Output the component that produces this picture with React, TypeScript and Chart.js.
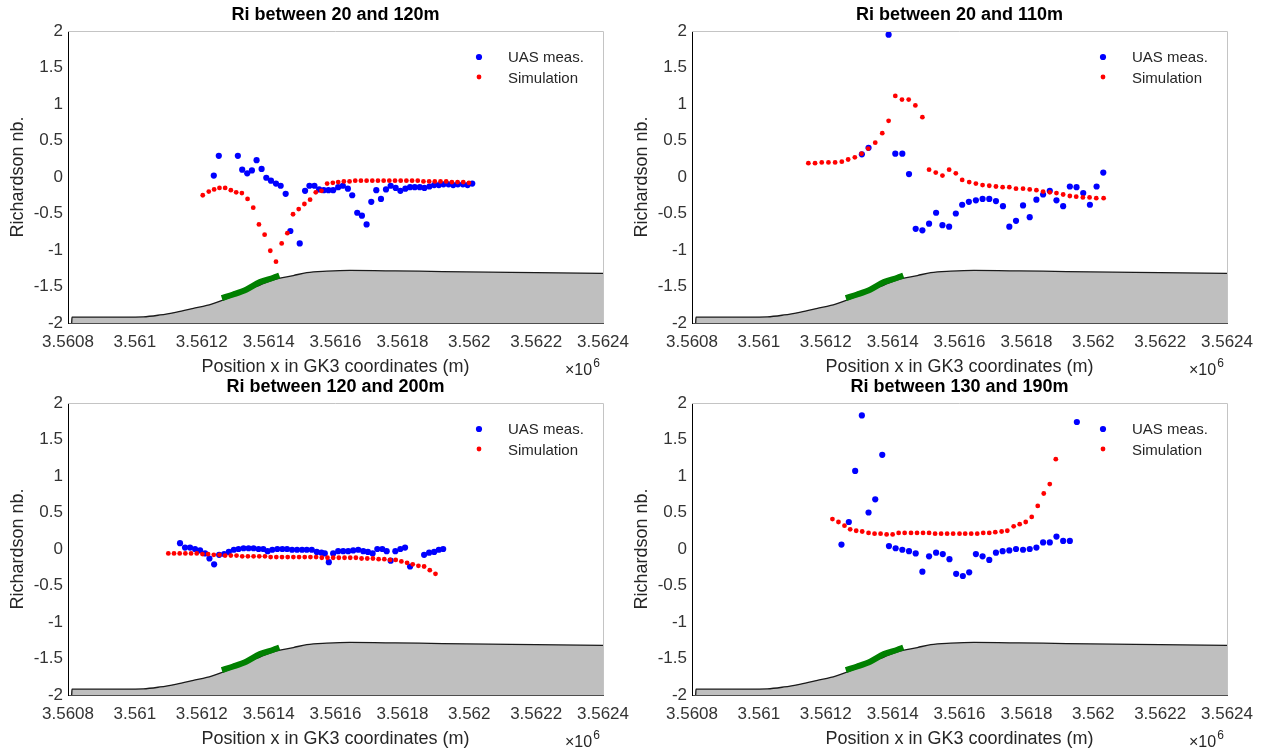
import React, { useEffect, useRef } from 'react';
import { Chart, registerables } from 'chart.js';

Chart.register(...registerables);

const FONT = '"Liberation Sans", Arial, Helvetica, sans-serif';

// ---------- axis ticks ----------
const xMin = 3560800;
const xMax = 3562400;
const xStep = 200;
const yMin = -2;
const yMax = 2;
const yStep = 0.5;
const xLabel = 'Position x in GK3 coordinates (m)';
const yLabel = 'Richardson nb.';
const legendLabels = ['UAS meas.', 'Simulation'];

// ---------- terrain (scaled profile) ----------
const terrainX = [3560811, 3560812, 3560900, 3561025, 3561075, 3561125, 3561175, 3561215, 3561255, 3561295, 3561334, 3561374, 3561414, 3561474, 3561514, 3561574, 3561643, 3561750, 3561850, 3561993, 3562200, 3562400];
const terrainY = [-2, -1.92, -1.92, -1.915, -1.89, -1.85, -1.8, -1.76, -1.7, -1.63, -1.55, -1.48, -1.41, -1.35, -1.31, -1.29, -1.28, -1.285, -1.29, -1.3, -1.31, -1.32];

// ---------- flight segment (green) ----------
const greenX = [3561260, 3561294, 3561334, 3561374, 3561414, 3561432];
const greenY = [-1.66, -1.61, -1.54, -1.44, -1.38, -1.35];

// ---------- panel 1: 20-120 m ----------
const p1Title = 'Ri between 20 and 120m';
const p1UasX = [3561236, 3561251, 3561308, 3561321, 3561336, 3561350, 3561364, 3561379, 3561393, 3561407, 3561422, 3561436, 3561451, 3561465, 3561493, 3561509, 3561522, 3561537, 3561551, 3561565, 3561579, 3561593, 3561608, 3561622, 3561637, 3561650, 3561665, 3561679, 3561693, 3561707, 3561722, 3561736, 3561751, 3561765, 3561780, 3561794, 3561809, 3561823, 3561837, 3561852, 3561866, 3561881, 3561895, 3561909, 3561923, 3561938, 3561952, 3561966, 3561981, 3561995, 3562009];
const p1UasY = [0.02, 0.29, 0.29, 0.10, 0.05, 0.09, 0.23, 0.11, -0.01, -0.05, -0.09, -0.12, -0.23, -0.74, -0.91, -0.19, -0.12, -0.12, -0.17, -0.18, -0.18, -0.18, -0.14, -0.12, -0.16, -0.25, -0.49, -0.53, -0.65, -0.34, -0.18, -0.30, -0.17, -0.12, -0.15, -0.19, -0.16, -0.14, -0.14, -0.14, -0.15, -0.13, -0.11, -0.11, -0.10, -0.10, -0.11, -0.10, -0.10, -0.11, -0.09];
const p1SimX = [3561203, 3561221, 3561237, 3561253, 3561270, 3561287, 3561303, 3561320, 3561337, 3561354, 3561371, 3561388, 3561405, 3561422, 3561439, 3561456, 3561473, 3561490, 3561507, 3561524, 3561541, 3561558, 3561575, 3561592, 3561608, 3561625, 3561642, 3561659, 3561676, 3561693, 3561710, 3561727, 3561744, 3561761, 3561778, 3561795, 3561812, 3561829, 3561846, 3561863, 3561880, 3561897, 3561914, 3561931, 3561948, 3561965, 3561982, 3561999];
const p1SimY = [-0.25, -0.20, -0.17, -0.15, -0.15, -0.18, -0.21, -0.22, -0.30, -0.42, -0.65, -0.79, -1.01, -1.16, -0.91, -0.77, -0.51, -0.44, -0.37, -0.31, -0.21, -0.19, -0.09, -0.08, -0.07, -0.06, -0.06, -0.05, -0.05, -0.05, -0.05, -0.05, -0.05, -0.05, -0.05, -0.05, -0.05, -0.05, -0.05, -0.06, -0.06, -0.06, -0.06, -0.06, -0.07, -0.07, -0.07, -0.08];

// ---------- panel 2: 20-110 m ----------
const p2Title = 'Ri between 20 and 110m';
const p2UasX = [3561308, 3561328, 3561388, 3561408, 3561429, 3561449, 3561469, 3561489, 3561509, 3561530, 3561549, 3561569, 3561589, 3561608, 3561628, 3561649, 3561669, 3561689, 3561709, 3561730, 3561749, 3561769, 3561790, 3561810, 3561830, 3561850, 3561870, 3561890, 3561910, 3561930, 3561950, 3561970, 3561990, 3562010, 3562030];
const p2UasY = [0.31, 0.40, 1.95, 0.32, 0.32, 0.04, -0.71, -0.73, -0.64, -0.49, -0.66, -0.68, -0.50, -0.38, -0.34, -0.32, -0.30, -0.30, -0.33, -0.40, -0.68, -0.60, -0.39, -0.55, -0.31, -0.24, -0.19, -0.32, -0.40, -0.13, -0.14, -0.22, -0.38, -0.13, 0.06];
const p2SimX = [3561148, 3561168, 3561188, 3561208, 3561228, 3561248, 3561267, 3561287, 3561307, 3561327, 3561348, 3561369, 3561388, 3561408, 3561428, 3561448, 3561468, 3561489, 3561509, 3561529, 3561549, 3561569, 3561589, 3561608, 3561629, 3561649, 3561669, 3561689, 3561709, 3561729, 3561749, 3561769, 3561790, 3561810, 3561830, 3561850, 3561870, 3561890, 3561910, 3561930, 3561949, 3561969, 3561989, 3562009, 3562031];
const p2SimY = [0.19, 0.19, 0.20, 0.20, 0.20, 0.21, 0.24, 0.27, 0.32, 0.39, 0.47, 0.60, 0.77, 1.11, 1.06, 1.06, 0.98, 0.82, 0.10, 0.06, 0.02, 0.10, 0.05, -0.04, -0.07, -0.09, -0.11, -0.12, -0.13, -0.14, -0.14, -0.16, -0.16, -0.17, -0.18, -0.20, -0.21, -0.22, -0.24, -0.26, -0.27, -0.28, -0.28, -0.29, -0.29];

// ---------- panel 3: 120-200 m ----------
const p3Title = 'Ri between 120 and 200m';
const p3UasX = [3561135, 3561150, 3561165, 3561180, 3561195, 3561210, 3561223, 3561237, 3561252, 3561267, 3561281, 3561296, 3561310, 3561325, 3561340, 3561355, 3561370, 3561384, 3561397, 3561411, 3561426, 3561441, 3561455, 3561470, 3561485, 3561500, 3561514, 3561529, 3561544, 3561558, 3561568, 3561580, 3561593, 3561608, 3561623, 3561638, 3561653, 3561668, 3561683, 3561697, 3561711, 3561725, 3561740, 3561753, 3561765, 3561779, 3561794, 3561808, 3561823, 3561865, 3561880, 3561895, 3561909, 3561922];
const p3UasY = [0.08, 0.02, 0.02, 0.00, -0.02, -0.06, -0.13, -0.21, -0.08, -0.07, -0.04, -0.01, 0.00, 0.01, 0.01, 0.01, 0.00, 0.00, -0.03, -0.01, 0.00, 0.00, 0.00, -0.01, -0.01, -0.01, -0.01, -0.01, -0.04, -0.05, -0.06, -0.18, -0.06, -0.03, -0.03, -0.03, -0.02, -0.01, -0.03, -0.04, -0.06, 0.00, 0.00, -0.03, -0.16, -0.03, 0.00, 0.02, -0.24, -0.08, -0.05, -0.04, -0.01, 0.00];
const p3SimX = [3561100, 3561117, 3561134, 3561151, 3561168, 3561185, 3561202, 3561219, 3561236, 3561253, 3561270, 3561287, 3561304, 3561321, 3561338, 3561355, 3561372, 3561389, 3561406, 3561423, 3561440, 3561457, 3561474, 3561491, 3561508, 3561525, 3561542, 3561559, 3561576, 3561593, 3561610, 3561627, 3561644, 3561661, 3561678, 3561695, 3561712, 3561729, 3561746, 3561763, 3561780, 3561797, 3561814, 3561831, 3561848, 3561865, 3561882, 3561899];
const p3SimY = [-0.06, -0.06, -0.06, -0.06, -0.06, -0.06, -0.07, -0.07, -0.08, -0.08, -0.09, -0.09, -0.09, -0.10, -0.10, -0.10, -0.10, -0.10, -0.11, -0.11, -0.11, -0.11, -0.11, -0.11, -0.11, -0.11, -0.11, -0.12, -0.12, -0.12, -0.12, -0.12, -0.12, -0.12, -0.13, -0.13, -0.13, -0.14, -0.14, -0.15, -0.15, -0.17, -0.19, -0.21, -0.23, -0.24, -0.29, -0.34];

// ---------- panel 4: 130-190 m ----------
const p4Title = 'Ri between 130 and 190m';
const p4UasX = [3561247, 3561269, 3561288, 3561308, 3561328, 3561348, 3561369, 3561389, 3561409, 3561429, 3561449, 3561469, 3561489, 3561509, 3561530, 3561550, 3561570, 3561590, 3561610, 3561629, 3561649, 3561669, 3561689, 3561709, 3561729, 3561749, 3561769, 3561790, 3561810, 3561830, 3561850, 3561870, 3561890, 3561910, 3561930, 3561951];
const p4UasY = [0.06, 0.37, 1.07, 1.83, 0.50, 0.68, 1.29, 0.04, 0.01, -0.01, -0.03, -0.06, -0.31, -0.10, -0.05, -0.07, -0.14, -0.34, -0.37, -0.32, -0.07, -0.10, -0.15, -0.05, -0.03, -0.02, 0.00, -0.01, 0.00, 0.02, 0.09, 0.09, 0.17, 0.11, 0.11, 1.74];
const p4SimX = [3561220, 3561238, 3561256, 3561273, 3561291, 3561309, 3561328, 3561346, 3561364, 3561382, 3561400, 3561418, 3561436, 3561455, 3561473, 3561491, 3561509, 3561527, 3561545, 3561563, 3561581, 3561600, 3561617, 3561635, 3561653, 3561671, 3561689, 3561707, 3561726, 3561743, 3561762, 3561780, 3561798, 3561816, 3561834, 3561852, 3561870, 3561888];
const p4SimY = [0.41, 0.37, 0.32, 0.27, 0.25, 0.24, 0.22, 0.21, 0.21, 0.20, 0.20, 0.22, 0.22, 0.22, 0.22, 0.22, 0.22, 0.21, 0.21, 0.21, 0.21, 0.21, 0.21, 0.21, 0.21, 0.22, 0.22, 0.23, 0.24, 0.25, 0.31, 0.34, 0.37, 0.44, 0.59, 0.76, 0.89, 1.23];

function zip(xs: number[], ys: number[]) {
  return xs.map((x, i) => ({ x, y: ys[i] }));
}

const CANVAS_W = 638;
const CANVAS_H = 379;

const decorPlugin = {
  id: 'matlabDecor',
  afterDraw(chart: any) {
    const ctx = chart.ctx;
    const { left, right, top, bottom } = chart.chartArea;
    ctx.save();
    // box top / right
    ctx.strokeStyle = '#c4c4c4';
    ctx.lineWidth = 1;
    ctx.beginPath();
    ctx.moveTo(left, top + 0.5);
    ctx.lineTo(right + 0.5, top + 0.5);
    ctx.lineTo(right + 0.5, bottom);
    ctx.stroke();
    // legend
    ctx.fillStyle = '#0000ff';
    ctx.beginPath();
    ctx.arc(right - 124, top + 26, 3.1, 0, Math.PI * 2);
    ctx.fill();
    ctx.fillStyle = '#ff0000';
    ctx.beginPath();
    ctx.arc(right - 124, top + 46, 2.4, 0, Math.PI * 2);
    ctx.fill();
    ctx.fillStyle = '#262626';
    ctx.font = `15px ${FONT}`;
    ctx.textAlign = 'left';
    ctx.textBaseline = 'middle';
    ctx.fillText(legendLabels[0], right - 95, top + 27);
    ctx.fillText(legendLabels[1], right - 95, top + 48);
    // exponent
    ctx.font = `16px ${FONT}`;
    const bx = right - 38;
    ctx.fillText('\u00d710', bx, chart.height - 8);
    const w = ctx.measureText('\u00d710').width;
    ctx.font = `12px ${FONT}`;
    ctx.fillText('6', bx + w + 1, chart.height - 15);
    ctx.restore();
  },
};

type PanelProps = {
  left: number;
  top: number;
  title: string;
  uasX: number[];
  uasY: number[];
  simX: number[];
  simY: number[];
};

function Panel({ left, top, title, uasX, uasY, simX, simY }: PanelProps) {
  const ref = useRef<HTMLCanvasElement | null>(null);
  useEffect(() => {
    if (!ref.current) return;
    const chart = new Chart(ref.current, {
      type: 'scatter',
      data: {
        datasets: [
          {
            label: legendLabels[1],
            data: zip(simX, simY),
            backgroundColor: '#ff0000',
            borderWidth: 0,
            pointRadius: 2.4,
            pointBorderWidth: 0,
          },
          {
            label: legendLabels[0],
            data: zip(uasX, uasY),
            backgroundColor: '#0000ff',
            borderWidth: 0,
            pointRadius: 3.1,
            pointBorderWidth: 0,
          },
          {
            type: 'line',
            label: 'segment',
            data: zip(greenX, greenY),
            borderColor: '#008000',
            borderWidth: 6,
            pointRadius: 0,
            cubicInterpolationMode: 'monotone',
            fill: false,
          } as any,
          {
            type: 'line',
            label: 'terrain',
            data: zip(terrainX, terrainY),
            borderColor: '#1a1a1a',
            borderWidth: 1.3,
            backgroundColor: '#bfbfbf',
            pointRadius: 0,
            cubicInterpolationMode: 'monotone',
            fill: { value: -2 },
          } as any,
        ],
      },
      options: {
        responsive: false,
        animation: false,
        events: [],
        layout: { padding: { left: 0, right: 35, top: 0, bottom: 0 } },
        plugins: {
          legend: { display: false },
          tooltip: { enabled: false },
          title: {
            display: true,
            text: title,
            fullSize: false,
            color: '#000',
            font: { family: FONT, size: 18, weight: 'bold' },
            padding: { top: 4.7, bottom: 4.7 },
          },
        },
        scales: {
          x: {
            type: 'linear',
            min: xMin,
            max: xMax,
            z: 1,
            grid: { display: false, drawTicks: false },
            border: { display: true, color: '#4d4d4d', width: 1 },
            ticks: {
              stepSize: xStep,
              autoSkip: false,
              maxRotation: 0,
              padding: 9,
              color: '#333333',
              font: { family: FONT, size: 17 },
              callback: (v: any) => String(Number((Number(v) / 1e6).toFixed(4))),
            },
            title: {
              display: true,
              text: xLabel,
              color: '#262626',
              font: { family: FONT, size: 18 },
              padding: { top: 0, bottom: 0.7 },
            },
            afterFit: (s: any) => {
              s.height = 56;
            },
          },
          y: {
            type: 'linear',
            min: yMin,
            max: yMax,
            z: 1,
            grid: { display: false, drawTicks: false },
            border: { display: true, color: '#000', width: 1 },
            ticks: {
              stepSize: yStep,
              padding: 5,
              color: '#333333',
              font: { family: FONT, size: 17 },
              callback: (v: any) => String(v),
            },
            title: {
              display: true,
              text: yLabel,
              color: '#262626',
              font: { family: FONT, size: 18 },
              padding: { top: 7.2, bottom: 0 },
            },
            afterFit: (s: any) => {
              s.width = 68;
            },
          },
        },
      } as any,
      plugins: [decorPlugin],
    });
    return () => chart.destroy();
  }, [title, uasX, uasY, simX, simY]);
  return (
    <div style={{ position: 'absolute', left, top, width: CANVAS_W, height: CANVAS_H }}>
      <canvas ref={ref} width={CANVAS_W} height={CANVAS_H} style={{ width: CANVAS_W, height: CANVAS_H, display: 'block' }} />
    </div>
  );
}

export default function App() {
  return (
    <div style={{ position: 'absolute', left: 0, top: 0, width: 1266, height: 751, background: '#fff', overflow: 'hidden' }}>
      <Panel left={0} top={0} title={p1Title} uasX={p1UasX} uasY={p1UasY} simX={p1SimX} simY={p1SimY} />
      <Panel left={624} top={0} title={p2Title} uasX={p2UasX} uasY={p2UasY} simX={p2SimX} simY={p2SimY} />
      <Panel left={0} top={372} title={p3Title} uasX={p3UasX} uasY={p3UasY} simX={p3SimX} simY={p3SimY} />
      <Panel left={624} top={372} title={p4Title} uasX={p4UasX} uasY={p4UasY} simX={p4SimX} simY={p4SimY} />
    </div>
  );
}
